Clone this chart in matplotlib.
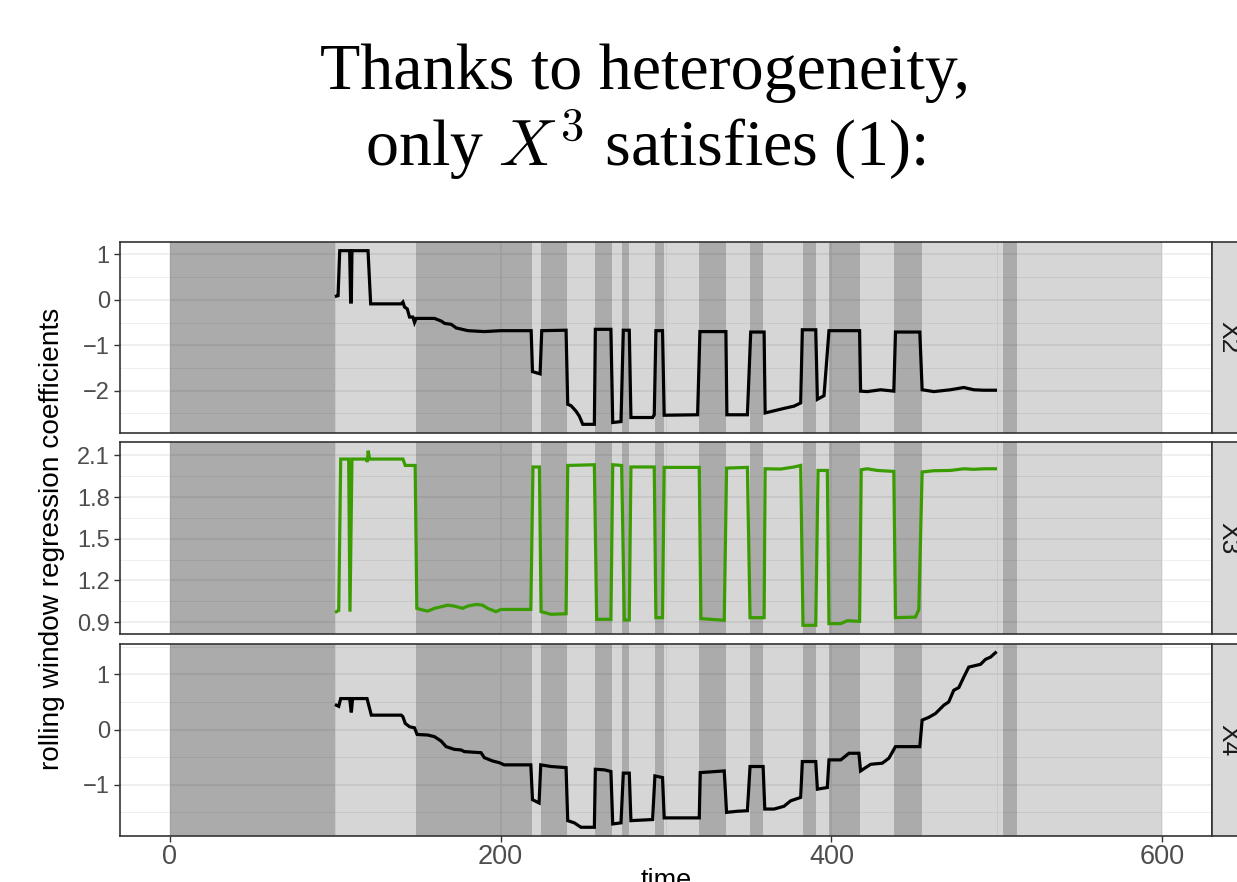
import matplotlib
matplotlib.use("Agg")
import matplotlib.pyplot as plt

plt.rcParams["mathtext.fontset"] = "cm"

# data
# regime shading: whole time range light, these intervals dark
base_span = (0, 600)
dark_start = [0, 148.6, 224.2, 256.8, 273.7, 293.1, 320.2, 350.5, 382.5, 398.8, 438.1, 503.9]
dark_end = [100, 219.3, 239.9, 267.1, 277.9, 298.5, 336.0, 358.9, 390.9, 417.5, 455.0, 512.4]

# rolling window regression coefficient for X2
t_x2 = [100.8, 101.8, 102.8, 108.8, 109.4, 109.8, 110.2, 119.9, 121.5, 140.0, 141.0, 142.0,
        143.6, 145.0, 147.0, 148.0, 149.0, 160.1, 164.2, 166.2, 170.2, 173.2, 180.3, 190.3,
        200.0, 218.5, 219.3, 223.9, 224.9, 239.6, 240.6, 242.6, 245.6, 247.6, 249.7, 256.7,
        257.3, 266.7, 267.8, 272.8, 274.2, 277.8, 278.8, 291.9, 292.9, 293.9, 297.9, 298.9,
        319.1, 320.5, 336.2, 336.8, 349.2, 351.2, 359.3, 359.9, 371.3, 377.4, 381.4, 382.4,
        390.5, 391.5, 395.5, 398.5, 417.0, 417.6, 421.6, 429.7, 437.7, 438.7, 453.4, 454.8,
        461.9, 471.9, 480.0, 486.0, 492.0, 499.1]
v_x2 = [0.08, 0.09, 1.08, 1.08, -0.05, -0.05, 1.08, 1.08, -0.09, -0.09, -0.05, -0.16,
        -0.20, -0.38, -0.38, -0.50, -0.41, -0.41, -0.47, -0.52, -0.54, -0.62, -0.68, -0.70,
        -0.68, -0.68, -1.58, -1.63, -0.68, -0.67, -2.30, -2.33, -2.45, -2.56, -2.74, -2.74,
        -0.65, -0.65, -2.70, -2.68, -0.67, -0.67, -2.59, -2.59, -2.53, -0.68, -0.68, -2.54,
        -2.53, -0.70, -0.70, -2.53, -2.53, -0.71, -0.71, -2.49, -2.39, -2.34, -2.27, -0.66,
        -0.66, -2.19, -2.11, -0.68, -0.68, -2.01, -2.02, -1.98, -2.01, -0.71, -0.71, -1.98,
        -2.02, -1.98, -1.93, -1.98, -1.99, -1.99]

# rolling window regression coefficient for X3
t_x3 = [100.8, 102.2, 103.4, 108.2, 109.0, 110.2, 118.8, 119.5, 120.0, 120.9, 141.0, 142.4,
        148.4, 149.4, 152.0, 156.0, 160.1, 164.0, 168.1, 172.1, 177.1, 180.1, 185.1, 189.1,
        192.2, 197.2, 200.2, 218.3, 219.6, 223.5, 224.5, 230.5, 239.6, 240.6, 256.7, 258.1,
        266.7, 267.8, 273.2, 274.8, 277.8, 278.8, 292.9, 293.9, 297.9, 298.9, 320.1, 321.1,
        335.2, 336.6, 349.2, 350.8, 359.3, 359.9, 369.3, 377.4, 381.4, 382.8, 390.5, 391.9,
        397.5, 398.5, 405.6, 409.6, 417.0, 418.0, 421.6, 427.7, 437.7, 438.7, 450.8, 452.8,
        454.8, 461.9, 471.9, 480.0, 486.0, 492.0, 499.1]
v_x3 = [0.975, 0.984, 2.074, 2.074, 0.975, 2.074, 2.074, 2.053, 2.134, 2.074, 2.074, 2.028,
        2.028, 0.999, 0.990, 0.979, 0.999, 1.010, 1.022, 1.015, 0.999, 1.015, 1.027, 1.022,
        0.999, 0.975, 0.991, 0.991, 2.017, 2.017, 0.975, 0.956, 0.960, 2.028, 2.033, 0.920,
        0.920, 2.033, 2.028, 0.915, 0.915, 2.017, 2.017, 0.932, 0.932, 2.014, 2.014, 0.925,
        0.913, 2.009, 2.014, 0.932, 0.932, 2.004, 2.002, 2.017, 2.028, 0.877, 0.877, 1.992,
        1.992, 0.889, 0.889, 0.910, 0.905, 1.997, 2.004, 1.992, 1.985, 0.932, 0.936, 0.991,
        1.981, 1.990, 1.992, 2.004, 2.000, 2.004, 2.004]

# rolling window regression coefficient for X4
t_x4 = [100.8, 102.2, 103.4, 108.8, 109.8, 110.6, 119.3, 121.9, 140.0, 141.0, 142.4, 145.0,
        148.0, 149.6, 156.0, 160.1, 164.1, 167.1, 172.1, 176.1, 178.1, 188.2, 190.2, 195.2,
        199.2, 202.2, 218.3, 219.3, 223.3, 224.3, 230.5, 239.6, 240.6, 244.6, 248.6, 256.7,
        257.3, 262.7, 266.7, 267.8, 272.8, 274.2, 277.8, 278.8, 291.9, 293.3, 297.9, 298.9,
        320.1, 320.7, 335.2, 336.6, 343.2, 349.2, 350.8, 358.7, 359.7, 365.3, 371.3, 375.4,
        381.4, 382.4, 390.5, 391.5, 397.5, 398.5, 405.6, 410.6, 416.6, 417.6, 423.7, 430.7,
        434.7, 438.7, 453.4, 454.8, 458.8, 462.9, 467.9, 470.9, 473.9, 477.0, 480.0, 483.0,
        490.1, 493.1, 496.1, 499.1]
v_x4 = [0.44, 0.42, 0.56, 0.56, 0.31, 0.56, 0.56, 0.26, 0.26, 0.23, 0.11, 0.05,
        0.03, -0.09, -0.10, -0.13, -0.21, -0.31, -0.36, -0.37, -0.40, -0.42, -0.51, -0.57,
        -0.60, -0.64, -0.64, -1.27, -1.33, -0.64, -0.67, -0.69, -1.65, -1.69, -1.77, -1.77,
        -0.72, -0.73, -0.76, -1.71, -1.69, -0.79, -0.79, -1.65, -1.63, -0.84, -0.87, -1.60,
        -1.60, -0.78, -0.75, -1.50, -1.48, -1.47, -0.67, -0.67, -1.44, -1.44, -1.39, -1.29,
        -1.23, -0.58, -0.58, -1.08, -1.05, -0.55, -0.55, -0.43, -0.43, -0.75, -0.63, -0.61,
        -0.52, -0.31, -0.31, 0.17, 0.22, 0.29, 0.44, 0.50, 0.71, 0.76, 0.95, 1.13,
        1.18, 1.27, 1.31, 1.39]

panel_names = ["X2", "X3", "X4"]
panel_t = [t_x2, t_x3, t_x4]
panel_v = [v_x2, v_x3, v_x4]
panel_colors = ["black", "#3a9c00", "black"]
panel_yticks = [[-2, -1, 0, 1], [0.9, 1.2, 1.5, 1.8, 2.1], [-1, 0, 1]]
panel_yminor = [[-2.5, -1.5, -0.5, 0.5], [1.05, 1.35, 1.65, 1.95], [-1.5, -0.5, 0.5, 1.5]]
panel_ylabels = [["\u22122", "\u22121", "0", "1"], ["0.9", "1.2", "1.5", "1.8", "2.1"],
                 ["\u22121", "0", "1"]]
x_ticks = [0, 200, 400, 600]
x_minor = [100, 300, 500]

W, H = 1237, 882
fig = plt.figure(figsize=(W / 100, H / 100), dpi=100)


def px_box(left, top, right, bottom):
    return [left / W, 1 - bottom / H, (right - left) / W, (bottom - top) / H]


panel_rows = [(242, 433), (442, 634), (644, 836)]
p_left, p_right = 120, 1212
strip_right = 1245
edge = "#333333"

for i, (top, bottom) in enumerate(panel_rows):
    ax = fig.add_axes(px_box(p_left, top, p_right, bottom))
    t, v = panel_t[i], panel_v[i]
    lo, hi = min(v), max(v)
    pad = 0.05 * (hi - lo)
    ax.set_ylim(lo - pad, hi + pad)
    ax.set_xlim(-30, 630)

    # grid (under the shading)
    for y in panel_yticks[i]:
        ax.axhline(y, color="#EBEBEB", lw=1.1, zorder=0)
    for y in panel_yminor[i]:
        ax.axhline(y, color="#EBEBEB", lw=0.55, zorder=0)
    for x in x_ticks:
        ax.axvline(x, color="#EBEBEB", lw=1.1, zorder=0)
    for x in x_minor:
        ax.axvline(x, color="#EBEBEB", lw=0.55, zorder=0)

    ax.axvspan(base_span[0], base_span[1], color="black", alpha=0.16, lw=0, zorder=1)
    for s, e in zip(dark_start, dark_end):
        ax.axvspan(s, e, color="black", alpha=0.2, lw=0, zorder=1)

    ax.plot(t, v, color=panel_colors[i], lw=2.3, zorder=3, solid_joinstyle="miter")

    ax.set_yticks(panel_yticks[i])
    ax.set_yticklabels(panel_ylabels[i])
    ax.tick_params(axis="y", direction="out", length=4.3, width=1.0, color=edge,
                   labelcolor="#4D4D4D", labelsize=17, pad=3)
    if i == 2:
        ax.set_xticks(x_ticks)
        ax.tick_params(axis="x", direction="out", length=4.3, width=1.0, color=edge,
                       labelcolor="#4D4D4D", labelsize=19.5, pad=1.5)
    else:
        ax.set_xticks([])
    for sp in ax.spines.values():
        sp.set_color(edge)
        sp.set_linewidth(1.2)
        sp.set_zorder(5)

    # facet strip on the right (cut off by the figure edge, as in the source)
    sax = fig.add_axes(px_box(p_right, top, strip_right, bottom))
    sax.set_facecolor("#D9D9D9")
    sax.set_xticks([])
    sax.set_yticks([])
    for sp in sax.spines.values():
        sp.set_color(edge)
        sp.set_linewidth(1.2)
    sax.text(0.5, 0.5, panel_names[i], rotation=-90, ha="center", va="center",
             fontsize=19, color="#1A1A1A", family="Liberation Sans",
             transform=sax.transAxes)

fig.text(52 / W, 1 - 539 / H, "rolling window regression coefficients", rotation=90,
         ha="center", va="center", fontsize=20.2, family="Liberation Sans", color="black")
fig.text(666 / W, 1 - 868 / H, "time", ha="center", va="top", fontsize=19.5,
         family="Liberation Sans", color="black")

fig.text(645 / W, 1 - 89 / H, "Thanks to heterogeneity,", ha="center", va="baseline",
         fontsize=47.5, family="Liberation Serif", color="black")
fig.text(645 / W, 1 - 165 / H, "only $X^3$ satisfies (1):", ha="center", va="baseline",
         fontsize=47.5, family="Liberation Serif", color="black")

for ax in fig.axes:
    for lab in ax.get_xticklabels() + ax.get_yticklabels():
        lab.set_family("Liberation Sans")

fig.savefig("out.png", dpi=100)
